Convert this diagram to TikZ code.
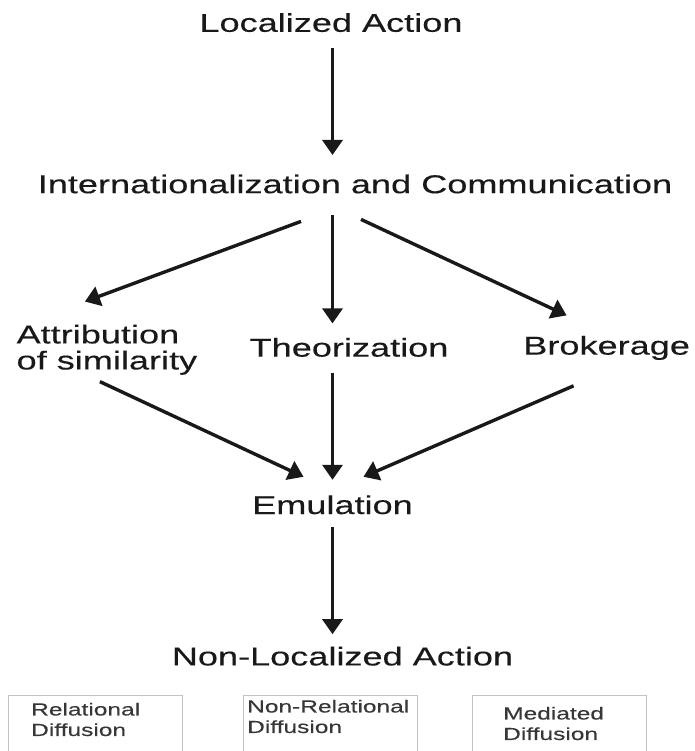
\documentclass[tikz,border=0pt]{standalone}
\usepackage{fontspec}
\setmainfont{Liberation Sans}[FakeStretch=1.4, FakeBold=0.25]
\usepackage{xcolor}
\usepackage{tikz}
\usetikzlibrary{arrows.meta, positioning}
\definecolor{inkgray}{RGB}{25, 25, 25}
\definecolor{framegray}{RGB}{195, 195, 195}
\definecolor{notegray}{RGB}{55, 55, 55}

\begin{document}
\begin{tikzpicture}[
    stage/.style={font=\fontsize{25.8pt}{26pt}\selectfont, text=inkgray, inner sep=0pt, text height=19pt, text depth=0pt},
    frame/.style={draw=framegray, line width=1pt, minimum width=174pt, minimum height=66pt, inner sep=0pt},
    note/.style={font=\fontsize{17.5pt}{20.5pt}\selectfont, text=notegray, inner sep=0pt, align=left},
    arrow/.style={-{Triangle[length=15pt, width=20pt]}, line width=3.4pt, inkgray}
]
    \useasboundingbox (0,0) rectangle (694pt,-751pt);

    % Nodes - main column
    \node[stage, anchor=south] (loc) at (331pt,-32pt) {Localized Action};
    \node[stage, below=142pt of loc, xshift=24pt] (inter) {Internationalization and Communication};
    \node[stage, below=144pt of inter, xshift=-6pt] (theo) {Theorization};
    \node[stage, below=138pt of theo, xshift=-16.5pt] (emul) {Emulation};
    \node[stage, below=132pt of emul, xshift=10pt] (nonloc) {Non-Localized Action};

    % Nodes - side branches
    \node[stage, text height={}, align=left, left=52pt of theo] (attr) {Attribution\\of similarity};
    \node[stage, right=74.5pt of theo, yshift=2pt] (brok) {Brokerage};

    % Nodes - diffusion frames
    \node[frame, below=29pt of nonloc, xshift=-12pt] (relnone) {};
    \node[frame, left=60pt of relnone] (rel) {};
    \node[frame, right=54pt of relnone] (med) {};
    \node[note, below right=8pt and 23pt of rel.north west] (reltext) {Relational\\Diffusion};
    \node[note, below right=5pt and 4pt of relnone.north west] (relnonetext) {Non-Relational\\Diffusion};
    \node[note, below right=12pt and 31pt of med.north west] (medtext) {Mediated\\Diffusion};

    % Arrows - main column
    \draw[arrow, shorten <=16pt, shorten >=19pt] (loc.south -| emul) -- (inter.north -| emul);
    \draw[arrow, shorten <=22pt, shorten >=14pt] (inter.south -| emul) -- (theo.north -| emul);
    \draw[arrow, shorten <=16pt, shorten >=15pt] (theo.south -| emul) -- (emul.north);
    \draw[arrow, shorten <=13pt, shorten >=12pt] (emul.south) -- (nonloc.north -| emul);

    % Arrows - branches
    \draw[arrow] ([shift={(-54pt,-28pt)}]inter.south) -- ([shift={(-22pt,23pt)}]attr.north);
    \draw[arrow] ([shift={(6pt,-26pt)}]inter.south) -- ([shift={(-40pt,20pt)}]brok.north);
    \draw[arrow] ([shift={(-7pt,-12pt)}]attr.south) -- ([shift={(-29pt,18pt)}]emul.north);
    \draw[arrow] ([shift={(-33pt,-31pt)}]brok.south) -- ([shift={(31pt,18pt)}]emul.north);
\end{tikzpicture}
\end{document}
